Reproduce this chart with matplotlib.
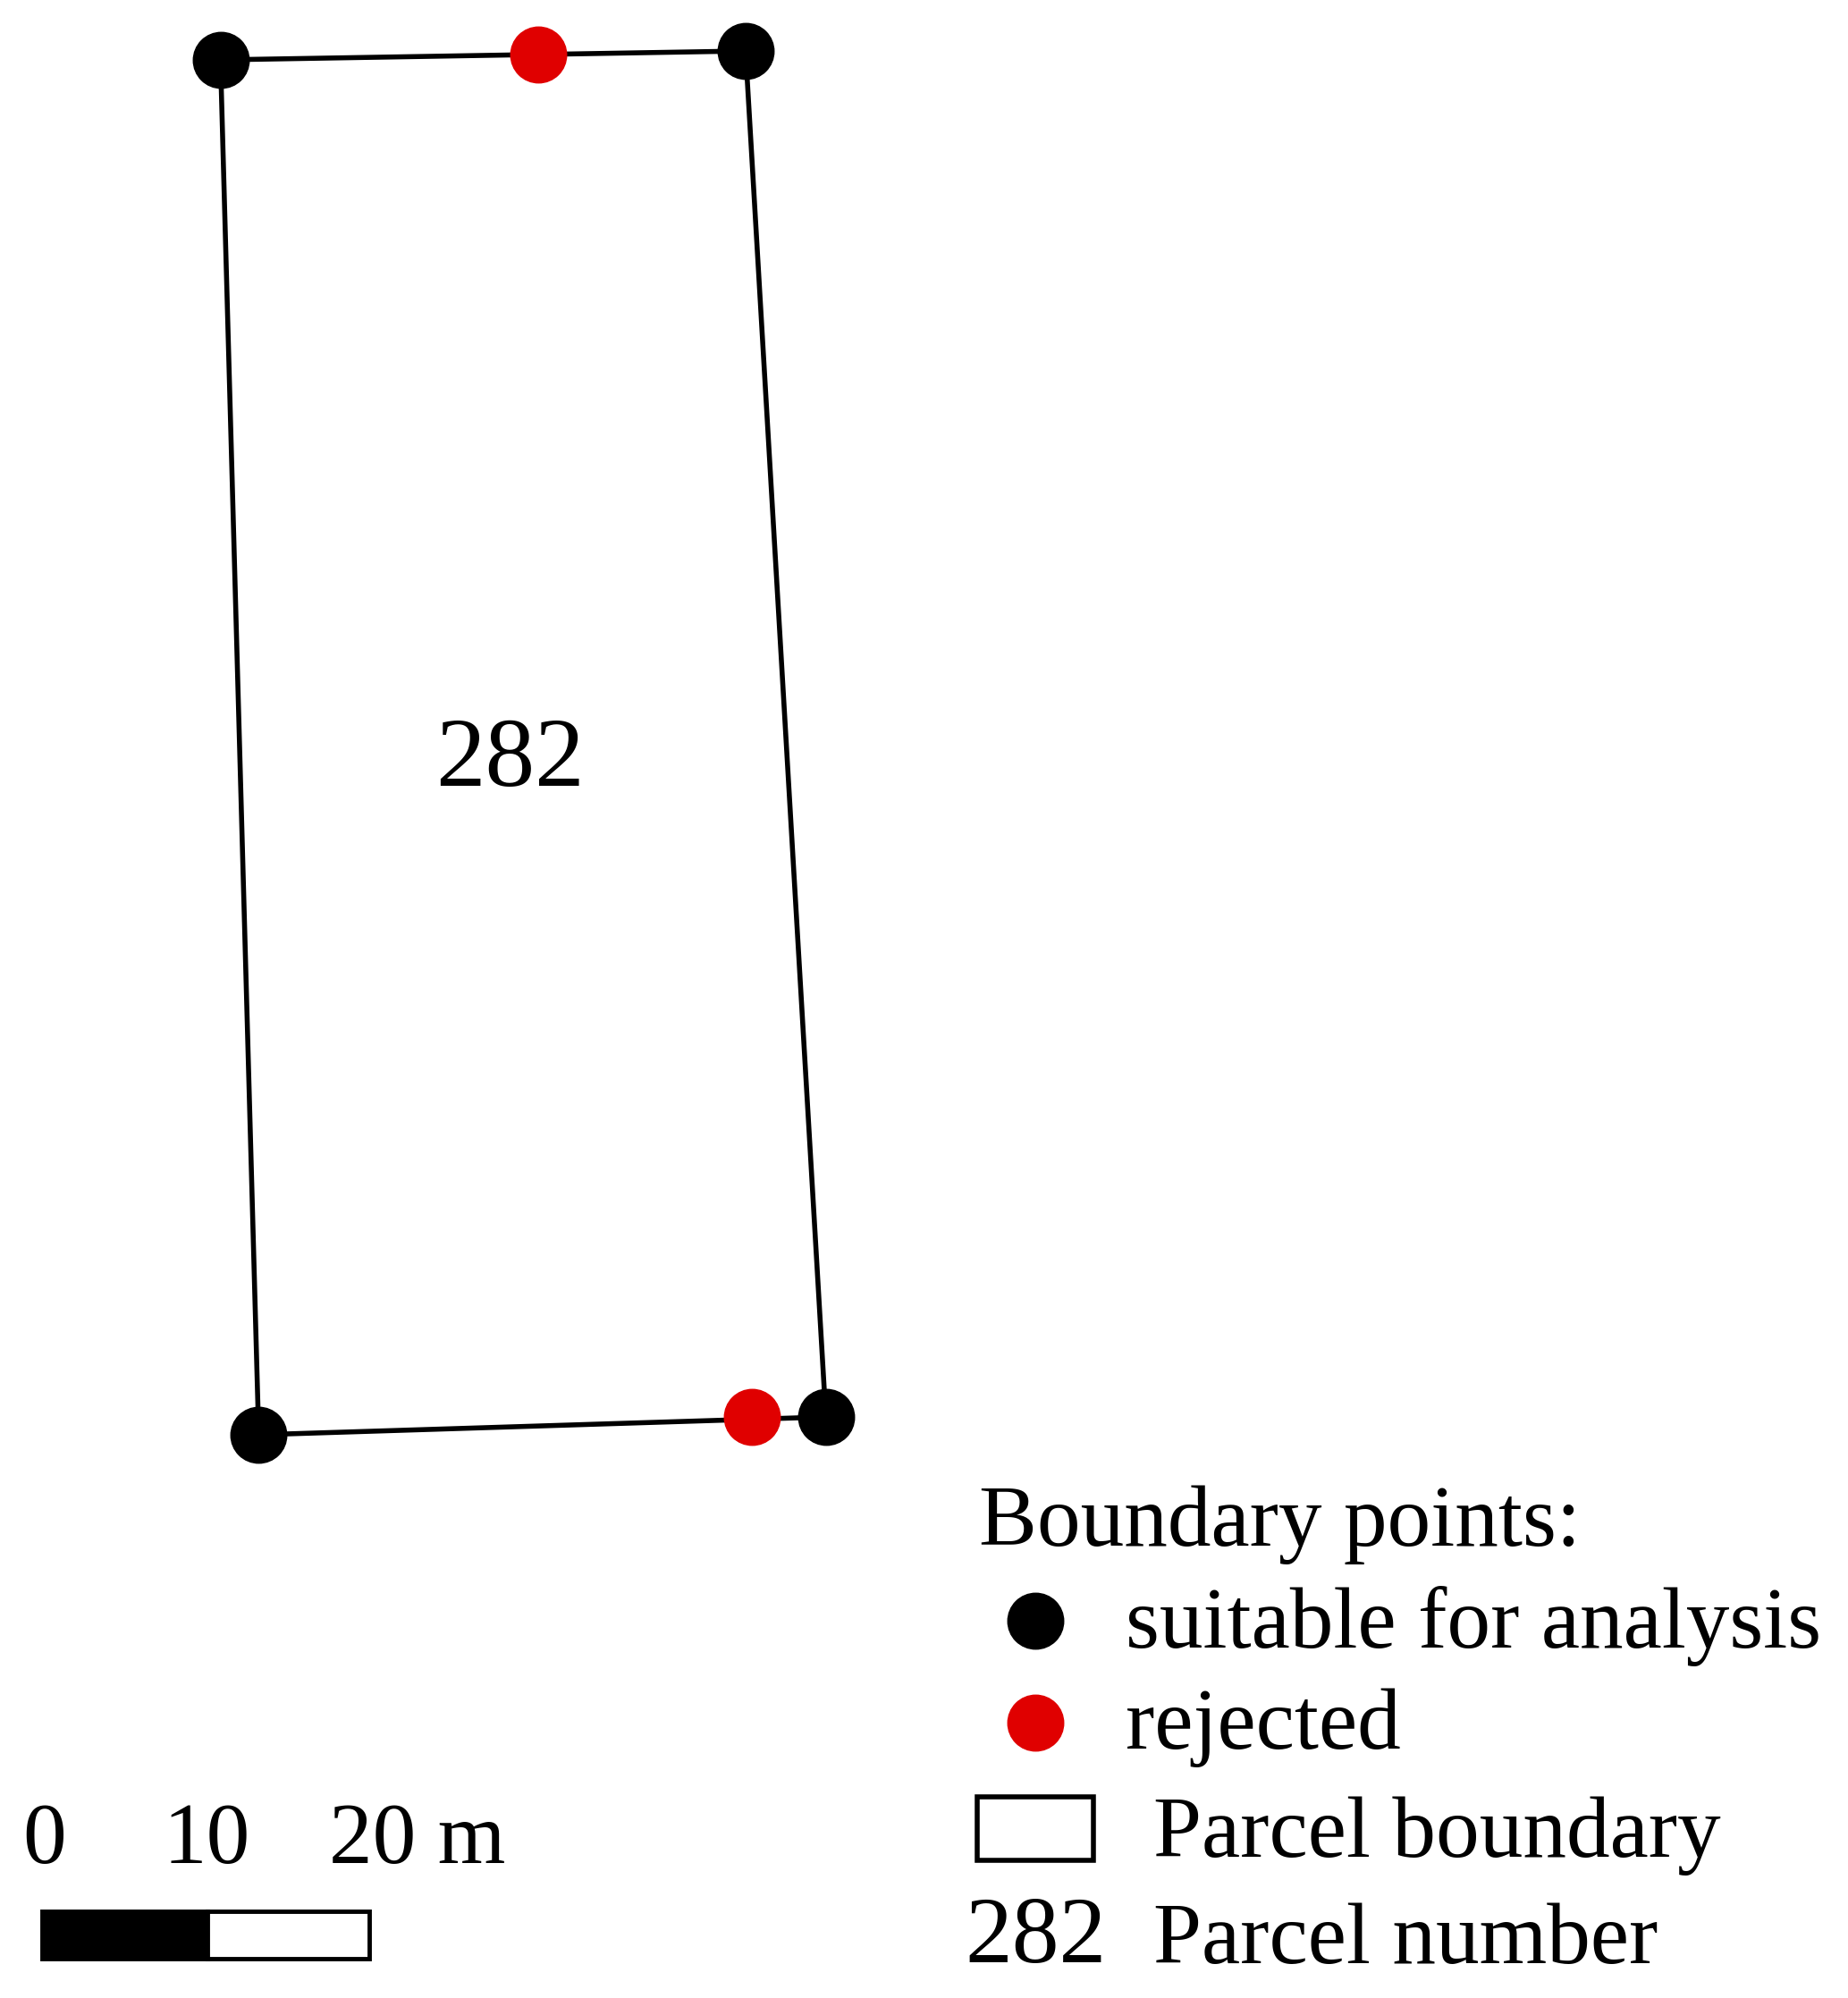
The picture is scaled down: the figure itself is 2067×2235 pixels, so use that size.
import matplotlib.pyplot as plt
from matplotlib.patches import Rectangle

# vertex positions (image units, y down)
corner_x = [173, 585, 648, 203]
corner_y = [47, 40, 1112, 1126]
suitable_x = [173, 585, 648, 203]
suitable_y = [47, 40, 1112, 1126]
rejected_x = [422, 590]
rejected_y = [43, 1112]
parcel_label = "282"

W, H = 1450, 1568
fig = plt.figure(figsize=(20.67, 22.35), dpi=100)
ax = fig.add_axes([0, 0, 1, 1])
ax.set_xlim(0, W)
ax.set_ylim(H, 0)
ax.axis('off')
plt.rcParams['font.family'] = ['Liberation Serif', 'DejaVu Serif']

ax.plot(corner_x + corner_x[:1], corner_y + corner_y[:1], color='black', lw=4, zorder=1)
ax.plot(suitable_x, suitable_y, 'o', color='black', markersize=45, zorder=3)
ax.plot(rejected_x, rejected_y, 'o', color='#e00000', markersize=45, zorder=3)
ax.text(400, 598, parcel_label, fontsize=80, ha='center', va='center')

# legend
fs = 70
ax.text(768, 1197, "Boundary points:", fontsize=fs, va='center')
ax.plot([812], [1272], 'o', color='black', markersize=45)
ax.text(883, 1276, "suitable for analysis", fontsize=fs, va='center')
ax.plot([812], [1352], 'o', color='#e00000', markersize=45)
ax.text(883, 1356, "rejected", fontsize=fs, va='center')
ax.add_patch(Rectangle((767, 1410), 91, 50, fill=False, lw=4, ec='black'))
ax.text(905, 1441, "Parcel boundary", fontsize=fs, va='center')
ax.text(757, 1522, parcel_label, fontsize=76, va='center')
ax.text(905, 1524, "Parcel number", fontsize=fs, va='center')

# scale bar
ax.add_patch(Rectangle((33, 1500), 130, 37, fc='black', ec='black', lw=3.5))
ax.add_patch(Rectangle((163, 1500), 127, 37, fc='white', ec='black', lw=3.5))
ax.text(35, 1446, "0", fontsize=fs, ha='center', va='center')
ax.text(162, 1446, "10", fontsize=fs, ha='center', va='center')
ax.text(258, 1446, "20 m", fontsize=fs, ha='left', va='center')

fig.savefig('out.png', dpi=100)
